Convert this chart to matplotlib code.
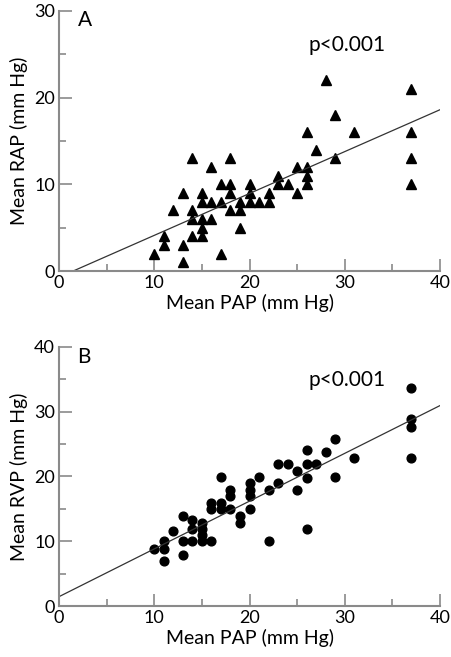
import matplotlib
matplotlib.use("Agg")
import matplotlib.pyplot as plt
from matplotlib.ticker import MultipleLocator
import numpy as np

plt.rcParams['font.family'] = ['Lato', 'DejaVu Sans']

# Panel A: mean PAP vs mean RAP
pap_a = [10, 11, 11, 12, 13, 13, 13, 14, 14, 14, 14, 15, 15, 15, 15, 15,
         16, 16, 16, 17, 17, 17, 18, 18, 18, 18, 19, 19, 19, 20, 20, 20,
         21, 22, 22, 23, 23, 24, 25, 25, 26, 26, 26, 26, 27, 28, 29, 29,
         31, 37, 37, 37, 37]
rap_a = [2, 4, 3, 7, 9, 3, 1, 13, 7, 6, 4, 9, 8, 6, 5, 4,
         12, 8, 6, 10, 8, 2, 13, 10, 9, 7, 8, 7, 5, 10, 9, 8,
         8, 8, 9, 11, 10, 10, 12, 9, 16, 12, 11, 10, 14, 22, 18, 13,
         16, 21, 16, 13, 10]
line_a = (-0.72, 0.483)  # intercept, slope

# Panel B: mean PAP vs mean RVP
pap_b = [10, 11, 11, 11, 12, 13, 13, 13, 14, 14, 14, 15, 15, 15, 15,
         16, 16, 16, 17, 17, 17, 18, 18, 18, 19, 19, 20, 20, 20, 20,
         21, 22, 22, 23, 23, 24, 25, 25, 26, 26, 26, 26, 27, 28, 29, 29,
         31, 37, 37, 37, 37]
rvp_b = [8.8, 10, 8.8, 6.9, 11.6, 13.9, 10, 7.9, 13.3, 11.9, 10, 12.8, 11.9, 10.9, 10,
         10, 15.9, 14.9, 19.9, 15.9, 14.9, 17.9, 16.9, 14.9, 13.9, 12.8, 18.9, 17.9, 16.9, 14.9,
         19.9, 17.9, 10, 21.9, 18.9, 21.9, 20.9, 17.9, 24, 21.9, 19.7, 11.9, 21.9, 23.8, 25.8, 19.9,
         22.8, 33.7, 28.8, 27.6, 22.8]
line_b = (1.44, 0.737)

spine_col = '#8a8a8a'


def style_axes(ax, ymax, ylabel):
    ax.set_xlim(0, 40)
    ax.set_ylim(0, ymax)
    for s in ['top', 'right']:
        ax.spines[s].set_visible(False)
    for s in ['left', 'bottom']:
        ax.spines[s].set_color(spine_col)
        ax.spines[s].set_linewidth(1.5)
    ax.xaxis.set_major_locator(MultipleLocator(10))
    ax.xaxis.set_minor_locator(MultipleLocator(5))
    ax.yaxis.set_major_locator(MultipleLocator(10))
    ax.yaxis.set_minor_locator(MultipleLocator(5))
    ax.tick_params(which='both', direction='in', color=spine_col, width=1.2,
                   labelsize=13, pad=3)
    ax.tick_params(which='major', length=9)
    ax.tick_params(which='minor', length=5)
    ax.set_xlabel("Mean PAP (mm Hg)", fontsize=14, labelpad=2)
    ax.set_ylabel(ylabel, fontsize=14, labelpad=4)


fig = plt.figure(figsize=(4.52, 6.57), dpi=100)
ax1 = fig.add_axes([0.1305, 0.5875, 0.843, 0.396])
ax2 = fig.add_axes([0.1305, 0.0776, 0.843, 0.3947])

xl = np.array([0, 40])

ax1.plot(pap_a, rap_a, '^', color='black', ms=7, clip_on=False)
xa = np.array([-line_a[0] / line_a[1], 40])
ax1.plot(xa, line_a[0] + line_a[1] * xa, color='#333333', lw=0.9)
style_axes(ax1, 30, "Mean RAP (mm Hg)")
ax1.text(0.05, 1.003, "A", transform=ax1.transAxes, fontsize=15, va='top')
ax1.text(0.755, 0.87, "p<0.001", transform=ax1.transAxes, fontsize=15,
         ha='center', va='center')

ax2.plot(pap_b, rvp_b, 'o', color='black', ms=6.3, clip_on=False)
ax2.plot(xl, line_b[0] + line_b[1] * xl, color='#333333', lw=0.9)
style_axes(ax2, 40, "Mean RVP (mm Hg)")
ax2.text(0.048, 0.997, "B", transform=ax2.transAxes, fontsize=15, va='top')
ax2.text(0.755, 0.87, "p<0.001", transform=ax2.transAxes, fontsize=15,
         ha='center', va='center')

fig.savefig("out.png", dpi=100)
